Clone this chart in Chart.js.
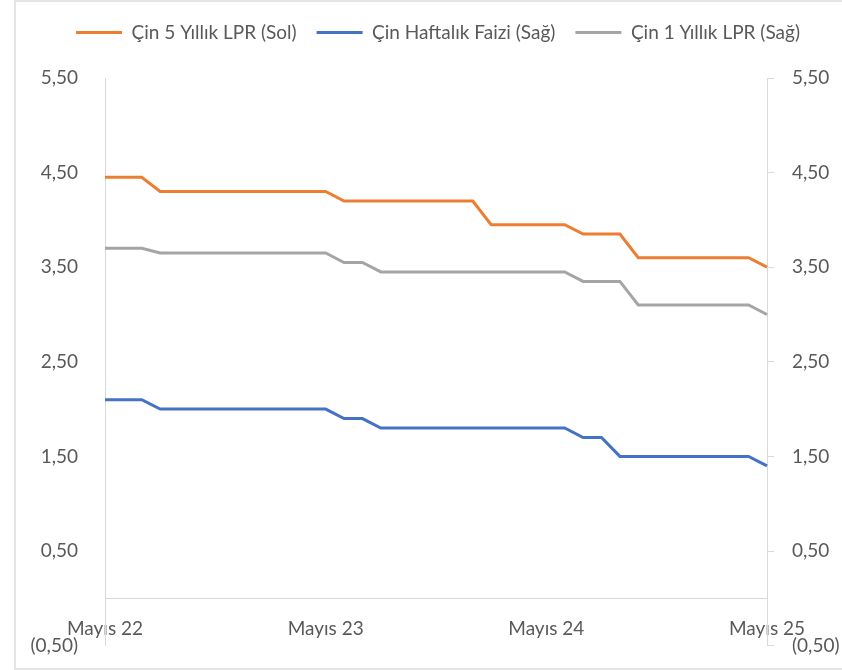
<!DOCTYPE html>
<html lang="tr">
<head>
  <meta charset="UTF-8" />
  <title>Çin LPR ve Haftalık Faiz</title>
  <script src="https://cdn.jsdelivr.net/npm/chart.js"></script>
  <style>
    html, body {
      margin: 0;
      background: #fff;
      overflow: hidden;
    }
    .frame {
      position: absolute;
      left: 14px;
      top: 0;
      width: 840px;
      height: 666px;
      border-left: 2px solid #e4e4e4;
      border-top: 2px solid #e4e4e4;
      border-bottom: 2px solid #e4e4e4;
      pointer-events: none;
    }
    .chart-box {
      position: relative;
      width: 842px;
      height: 676px;
    }
  </style>
</head>
<body>
  <div class="chart-box">
    <canvas id="lprChart"></canvas>
  </div>
  <div class="frame"></div>

  <script>
    // Aylık veriler, Mayıs 22 - Mayıs 25
    const aylar = [
      'Mayıs 22', 'Haziran 22', 'Temmuz 22', 'Ağustos 22', 'Eylül 22', 'Ekim 22', 'Kasım 22', 'Aralık 22',
      'Ocak 23', 'Şubat 23', 'Mart 23', 'Nisan 23', 'Mayıs 23', 'Haziran 23', 'Temmuz 23', 'Ağustos 23',
      'Eylül 23', 'Ekim 23', 'Kasım 23', 'Aralık 23', 'Ocak 24', 'Şubat 24', 'Mart 24', 'Nisan 24',
      'Mayıs 24', 'Haziran 24', 'Temmuz 24', 'Ağustos 24', 'Eylül 24', 'Ekim 24', 'Kasım 24', 'Aralık 24',
      'Ocak 25', 'Şubat 25', 'Mart 25', 'Nisan 25', 'Mayıs 25'
    ];

    const lpr5Yil = [
      4.45, 4.45, 4.45, 4.30, 4.30, 4.30, 4.30, 4.30, 4.30, 4.30, 4.30, 4.30, 4.30,
      4.20, 4.20, 4.20, 4.20, 4.20, 4.20, 4.20, 4.20, 3.95, 3.95, 3.95, 3.95, 3.95,
      3.85, 3.85, 3.85, 3.60, 3.60, 3.60, 3.60, 3.60, 3.60, 3.60, 3.50
    ];

    const haftalikFaiz = [
      2.10, 2.10, 2.10, 2.00, 2.00, 2.00, 2.00, 2.00, 2.00, 2.00, 2.00, 2.00, 2.00,
      1.90, 1.90, 1.80, 1.80, 1.80, 1.80, 1.80, 1.80, 1.80, 1.80, 1.80, 1.80, 1.80,
      1.70, 1.70, 1.50, 1.50, 1.50, 1.50, 1.50, 1.50, 1.50, 1.50, 1.40
    ];

    const lpr1Yil = [
      3.70, 3.70, 3.70, 3.65, 3.65, 3.65, 3.65, 3.65, 3.65, 3.65, 3.65, 3.65, 3.65,
      3.55, 3.55, 3.45, 3.45, 3.45, 3.45, 3.45, 3.45, 3.45, 3.45, 3.45, 3.45, 3.45,
      3.35, 3.35, 3.35, 3.10, 3.10, 3.10, 3.10, 3.10, 3.10, 3.10, 3.00
    ];

    const xEtiketleri = ['Mayıs 22', 'Mayıs 23', 'Mayıs 24', 'Mayıs 25'];
    const yDegerleri = [-0.5, 0.5, 1.5, 2.5, 3.5, 4.5, 5.5];

    const yaziRengi = '#595959';
    const eksenRengi = '#d9d9d9';
    const yazi = { family: "Lato, 'Liberation Sans', sans-serif", size: 19 };

    // 0,50 biçimi, eksi değerler parantez içinde
    function sayiBicim(v) {
      const s = Math.abs(v).toFixed(2).replace('.', ',');
      return v < 0 ? '(' + s + ')' : s;
    }

    function yTikler(scale) {
      scale.ticks = yDegerleri.map(v => ({ value: v }));
    }

    // lejant yüksekliği ve yatay kayması
    const lejantAyar = {
      id: 'lejantAyar',
      beforeInit(chart) {
        const eskiFit = chart.legend.fit;
        chart.legend.fit = function () {
          eskiFit.bind(chart.legend)();
          this.height = 75;
        };
      },
      afterLayout(chart) {
        chart.legend.left += 34;
      }
    };

    const ctx = document.getElementById('lprChart').getContext('2d');
    const chart = new Chart(ctx, {
      type: 'line',
      data: {
        labels: aylar,
        datasets: [
          {
            label: 'Çin 5 Yıllık LPR (Sol)',
            data: lpr5Yil,
            borderColor: '#ED7D31',
            backgroundColor: '#ED7D31',
            yAxisID: 'y'
          },
          {
            label: 'Çin Haftalık Faizi (Sağ)',
            data: haftalikFaiz,
            borderColor: '#4472C4',
            backgroundColor: '#4472C4',
            yAxisID: 'y1'
          },
          {
            label: 'Çin 1 Yıllık LPR (Sağ)',
            data: lpr1Yil,
            borderColor: '#A5A5A5',
            backgroundColor: '#A5A5A5',
            yAxisID: 'y1'
          }
        ]
      },
      plugins: [lejantAyar],
      options: {
        responsive: true,
        maintainAspectRatio: false,
        animation: false,
        elements: {
          line: { borderWidth: 3, tension: 0 },
          point: { radius: 0 }
        },
        layout: {
          padding: { top: 3, bottom: 0, left: 0, right: 0 }
        },
        plugins: {
          tooltip: { enabled: false },
          legend: {
            position: 'top',
            labels: {
              usePointStyle: true,
              pointStyle: 'line',
              pointStyleWidth: 46,
              color: yaziRengi,
              font: yazi,
              padding: 20,
              generateLabels(chart) {
                return chart.data.datasets.map((ds, i) => ({
                  text: ds.label,
                  strokeStyle: ds.borderColor,
                  fillStyle: ds.borderColor,
                  lineWidth: 3,
                  pointStyle: 'line',
                  hidden: false,
                  datasetIndex: i,
                  fontColor: yaziRengi
                }));
              }
            }
          }
        },
        scales: {
          x: {
            position: { y: 0 },
            offset: false,
            grid: { display: false },
            border: { display: true, color: eksenRengi, width: 1 },
            afterBuildTicks(scale) {
              scale.ticks = scale.ticks.filter(t => xEtiketleri.includes(aylar[t.value]));
            },
            ticks: {
              autoSkip: false,
              maxRotation: 0,
              color: yaziRengi,
              font: yazi,
              padding: 11
            }
          },
          y: {
            position: 'left',
            min: -0.5,
            max: 5.5,
            grid: { display: false },
            border: { display: true, color: eksenRengi, width: 1 },
            afterBuildTicks: yTikler,
            afterFit(scale) { scale.width = 105; },
            ticks: {
              color: yaziRengi,
              font: yazi,
              padding: 19,
              callback: v => sayiBicim(v)
            }
          },
          y1: {
            position: 'right',
            min: -0.5,
            max: 5.5,
            grid: {
              display: true,
              drawOnChartArea: false,
              drawTicks: true,
              tickLength: 7,
              color: eksenRengi
            },
            border: { display: true, color: eksenRengi, width: 1 },
            afterBuildTicks: yTikler,
            afterFit(scale) { scale.width = 75; },
            ticks: {
              color: yaziRengi,
              font: yazi,
              padding: 18,
              callback: v => sayiBicim(v)
            }
          }
        }
      }
    });
  </script>
</body>
</html>
